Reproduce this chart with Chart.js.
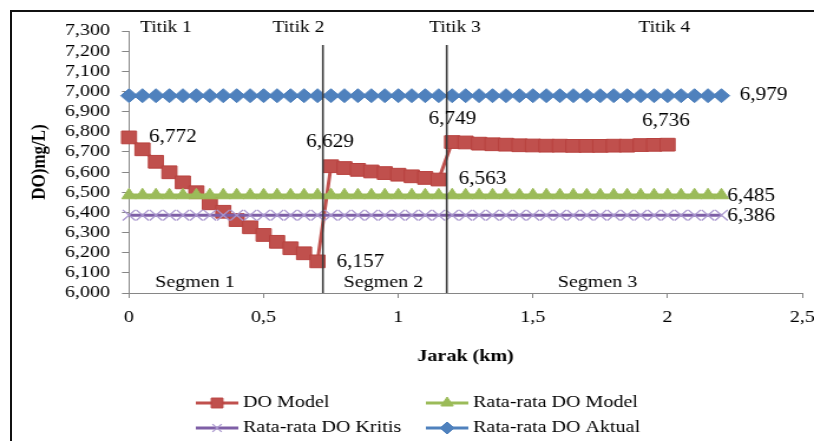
<!DOCTYPE html>
<html><head><meta charset="utf-8">
<script src="https://cdn.jsdelivr.net/npm/chart.js@4.4.1/dist/chart.umd.min.js"></script>
<style>
html,body{margin:0;padding:0;background:#fff;overflow:hidden;width:814px;height:441px;}
#frame{position:absolute;left:10px;top:10px;width:900px;height:600px;border-left:2px solid #111;border-top:2px solid #111;}
#c{position:absolute;left:0;top:0;transform:scaleX(1.17971);transform-origin:0 0;}
</style></head><body>
<div id="frame"></div>
<canvas id="c" width="690" height="441"></canvas>
<script>
// ---- data ----
const jarakModel = [0,0.05,0.1,0.15,0.2,0.25,0.3,0.35,0.4,0.45,0.5,0.55,0.6,0.65,0.7,
  0.75,0.8,0.85,0.9,0.95,1,1.05,1.1,1.15,
  1.2,1.25,1.3,1.35,1.4,1.45,1.5,1.55,1.6,1.65,1.7,1.75,1.8,1.85,1.9,1.95,2];
const nilaiDOModel = [6.772,6.713,6.651,6.599,6.549,6.500,6.445,6.403,6.362,6.326,6.288,6.254,6.222,6.197,6.157,
  6.629,6.620,6.611,6.603,6.595,6.587,6.579,6.571,6.563,
  6.749,6.747,6.741,6.738,6.736,6.733,6.732,6.731,6.731,6.730,6.730,6.730,6.731,6.731,6.734,6.735,6.736];
const jarakRata = [0,0.05,0.1,0.15,0.2,0.25,0.3,0.35,0.4,0.45,0.5,0.55,0.6,0.65,0.7,0.75,0.8,0.85,0.9,0.95,
  1,1.05,1.1,1.15,1.2,1.25,1.3,1.35,1.4,1.45,1.5,1.55,1.6,1.65,1.7,1.75,1.8,1.85,1.9,1.95,2,2.05,2.1,2.15,2.2];
const rataDOModel = 6.485;
const rataDOKritis = 6.386;
const rataDOAktual = 6.979;
const batasSegmen = [0.72, 1.18];
const labelTitik = ['Titik 1','Titik 2','Titik 3','Titik 4'];
const labelSegmen = ['Segmen 1','Segmen 2','Segmen 3'];
const seriesNames = ['DO Model','Rata-rata DO Model','Rata-rata DO Kritis','Rata-rata DO Aktual'];
const xTicks = [0,0.5,1,1.5,2,2.5];

// ---- build ----
const serif = "'Liberation Serif','Times New Roman',serif";
const fmt3 = v => Number(v).toFixed(3).replace('.', ',');
const pts = (xs, ys) => xs.map((x, i) => ({x, y: Array.isArray(ys) ? ys[i] : ys}));

const C = {red:'#C0504D', green:'#9BBB59', purple:'#7E5FA6', purpleM:'#A996CE', blue:'#4F81BD'};

const datasets = [
  {label: seriesNames[0], data: pts(jarakModel, nilaiDOModel), borderColor:C.red, backgroundColor:C.red,
   borderWidth:3, pointStyle:'rect', pointRadius:9, pointBorderWidth:1, pointBackgroundColor:C.red, pointBorderColor:'#B8423F', order:4},
  {label: seriesNames[1], data: pts(jarakRata, rataDOModel), borderColor:C.green, backgroundColor:C.green,
   borderWidth:3.5, pointStyle:'triangle', pointRadius:7, pointBorderWidth:1, pointBackgroundColor:C.green, pointBorderColor:C.green, order:3},
  {label: seriesNames[2], data: pts(jarakRata, rataDOKritis), borderColor:C.purple, backgroundColor:C.purple,
   borderWidth:3, pointStyle:'crossRot', pointRadius:7.5, pointBorderWidth:1.3, pointBorderColor:C.purpleM, order:2},
  {label: seriesNames[3], data: pts(jarakRata, rataDOAktual), borderColor:C.blue, backgroundColor:C.blue,
   borderWidth:3, pointStyle:'rectRot', pointRadius:7, pointBorderWidth:1, pointBackgroundColor:C.blue, pointBorderColor:C.blue, order:1},
];
batasSegmen.forEach(b => datasets.push({
  label:'_batas', data:[{x:b, y:7.23},{x:b, y:6.0}], borderColor:'#3a3a3a', borderWidth:1.6,
  pointRadius:0, order:0
}));

const overlay = {
  id:'overlay',
  afterDraw(chart){
    const {ctx, chartArea} = chart;
    const xs = chart.scales.x, ys = chart.scales.y;
    ctx.save();
    ctx.fillStyle = '#000';
    ctx.textBaseline = 'middle';
    // Titik labels
    ctx.font = `16.5px ${serif}`;
    ctx.textAlign = 'left';
    const titikPos = [0.041, 0.533, 1.114, 1.892];
    labelTitik.forEach((t, i) => ctx.fillText(t, xs.getPixelForValue(titikPos[i]), chartArea.top - 3));
    // Segmen labels
    ctx.font = `17px ${serif}`;
    ctx.textAlign = 'center';
    const segPos = [0.245, 0.945, 1.74];
    labelSegmen.forEach((t, i) => ctx.fillText(t, xs.getPixelForValue(segPos[i]), chartArea.bottom - 10));
    // value labels
    ctx.font = `18px ${serif}`;
    ctx.textAlign = 'left';
    const vl = [
      [jarakModel, nilaiDOModel, 0, 17, 0],
      [jarakModel, nilaiDOModel, 14, 16, 1],
      [jarakModel, nilaiDOModel, 15, -21, -24],
      [jarakModel, nilaiDOModel, 23, 17, 0],
      [jarakModel, nilaiDOModel, 24, -20, -23],
      [jarakModel, nilaiDOModel, 40, -21.5, -23.5],
      [jarakRata, rataDOAktual, jarakRata.length - 1, 15.5, 0],
      [jarakRata, rataDOModel, jarakRata.length - 1, 5, 1],
      [jarakRata, rataDOKritis, jarakRata.length - 1, 5, 1],
    ];
    vl.forEach(([xa, ya, i, dx, dy]) => {
      const v = Array.isArray(ya) ? ya[i] : ya;
      ctx.fillText(fmt3(v), xs.getPixelForValue(xa[i]) + dx, ys.getPixelForValue(v) + dy);
    });
    // legend
    const H = Chart.helpers;
    const leg = [[166, 403], [361, 403], [166, 428], [361, 428]];
    const legR = [7, 6, 5.5, 6];
    ctx.font = `17px ${serif}`;
    leg.forEach(([lx, ly], k) => {
      const ds = chart.data.datasets[k];
      ctx.strokeStyle = ds.borderColor;
      ctx.lineWidth = 3;
      ctx.beginPath(); ctx.moveTo(lx, ly); ctx.lineTo(lx + 36, ly); ctx.stroke();
      ctx.fillStyle = ds.pointBackgroundColor || ds.borderColor;
      ctx.strokeStyle = ds.pointBorderColor || ds.borderColor;
      ctx.lineWidth = ds.pointBorderWidth || 1;
      H.drawPoint(ctx, {pointStyle: ds.pointStyle, radius: legR[k], rotation: 0, borderWidth: ctx.lineWidth}, lx + 18, ly);
      ctx.fillStyle = '#000';
      ctx.fillText(ds.label, lx + 40, ly);
    });
    ctx.restore();
  }
};

new Chart(document.getElementById('c'), {
  type: 'line',
  data: {datasets},
  plugins: [overlay],
  options: {
    responsive: false,
    animation: false,
    events: [],
    layout: {padding: {left: 20, top: 31, right: 8.5, bottom: 74}},
    plugins: {legend: {display: false}, tooltip: {enabled: false}},
    elements: {line: {tension: 0}},
    datasets: {line: {clip: false}},
    scales: {
      x: {
        type: 'linear', min: 0, max: 2.5,
        afterBuildTicks: s => { s.ticks = xTicks.map(v => ({value: v})); },
        ticks: {callback: v => String(v).replace('.', ','), font: {family: serif, size: 17}, color: '#000',
                padding: 9, maxRotation: 0, autoSkip: false},
        grid: {drawOnChartArea: false, drawTicks: true, tickLength: 5, color: '#868686'},
        border: {display: true, color: '#868686', width: 1},
        title: {display: true, text: 'Jarak (km)', font: {family: serif, size: 17, weight: 'bold'}, color: '#000',
                padding: {top: 4, bottom: 0}},
        afterFit: s => { s.height = 74; s.paddingLeft = 0; s.paddingRight = 0; }
      },
      y: {
        type: 'linear', min: 6, max: 7.3,
        ticks: {stepSize: 0.1, autoSkip: false, callback: v => fmt3(v), font: {family: serif, size: 17}, color: '#000', padding: 10},
        grid: {drawOnChartArea: false, drawTicks: true, tickLength: 6, color: '#868686'},
        border: {display: true, color: '#868686', width: 1},
        title: {display: true, text: 'DO)mg/L)', font: {family: serif, size: 17, weight: 'bold'}, color: '#000',
                padding: {top: 3, bottom: 0}},
        afterFit: s => { s.width = 89.35; s.paddingTop = 0; s.paddingBottom = 0; }
      }
    }
  }
});
</script>
</body></html>
